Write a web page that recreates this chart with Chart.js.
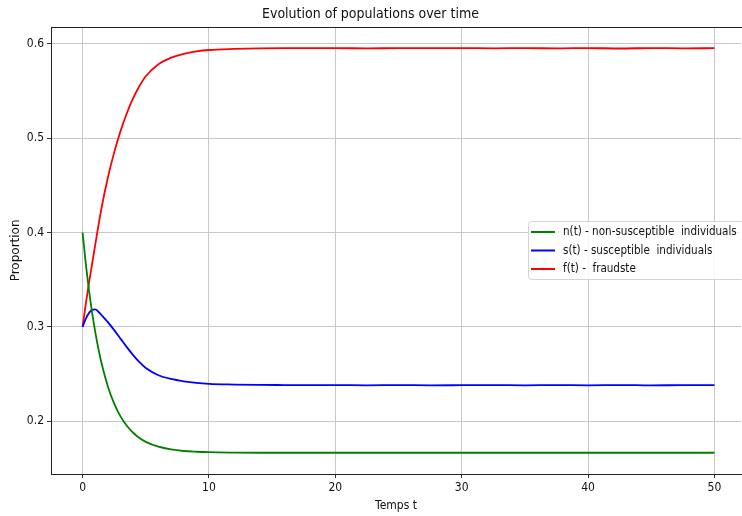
<!DOCTYPE html>
<html>
<head>
<meta charset="utf-8">
<script src="https://cdn.jsdelivr.net/npm/chart.js@4.4.1/dist/chart.umd.min.js"></script>
<style>
  html, body { margin: 0; padding: 0; background: #fff; }
  #wrap { width: 742px; height: 516px; }
</style>
</head>
<body>
<div id="wrap"><canvas id="popChart" width="742" height="516"></canvas></div>
<script>
// time samples and values
const times = [0, 0.25, 0.5, 0.75, 1, 1.25, 1.5, 2, 2.5, 3, 3.5, 4, 4.5, 5, 6, 7, 8, 9, 10,
  12, 14, 16, 18, 20, 22.5, 25, 27.5, 30, 32.5, 35, 37.5, 40, 42.5, 45, 47.5, 50];
const nonSusceptible = [0.400, 0.3675, 0.3395, 0.3154, 0.2946, 0.2768, 0.2614, 0.2368, 0.2186, 0.2051,
  0.1951, 0.1877, 0.1822, 0.1781, 0.1729, 0.1700, 0.1684, 0.1676, 0.1671,
  0.1667, 0.1665, 0.1665, 0.1665, 0.1665, 0.1665, 0.1665, 0.1665, 0.1665, 0.1665, 0.1665,
  0.1665, 0.1665, 0.1665, 0.1665, 0.1665, 0.1665];
const susceptible = [0.300, 0.3085, 0.3145, 0.318, 0.3185, 0.316, 0.3125, 0.305, 0.2965, 0.2875,
  0.2785, 0.270, 0.2625, 0.2563, 0.2487, 0.2447, 0.2422, 0.2405, 0.2395,
  0.2388, 0.2384, 0.2383, 0.2382, 0.2382, 0.2380, 0.2382, 0.2380, 0.2381, 0.2382, 0.2380,
  0.2383, 0.2380, 0.2383, 0.2379, 0.2382, 0.2381];
const fraudsters = [0.300, 0.324, 0.346, 0.3666, 0.3869, 0.4072, 0.4261, 0.4582, 0.4849, 0.5074,
  0.5264, 0.5423, 0.5553, 0.5656, 0.5784, 0.5853, 0.5894, 0.5919, 0.5934,
  0.5945, 0.5951, 0.5953, 0.5953, 0.5954, 0.5951, 0.5954, 0.5953, 0.5954, 0.5952, 0.5954,
  0.5951, 0.5955, 0.5950, 0.5955, 0.5952, 0.5953];
const xTicks = [0, 10, 20, 30, 40, 50];
const yTicks = [0.2, 0.3, 0.4, 0.5, 0.6];

function toPoints(ys) {
  return times.map((t, i) => ({ x: t, y: ys[i] }));
}

const condensed = "'DejaVu Sans Condensed', 'Liberation Sans Narrow', 'DejaVu Sans', sans-serif";
const regular = "'DejaVu Sans', sans-serif";

// frame + legend box drawn the matplotlib way
const framePlugin = {
  id: "frame",
  afterDraw(chart) {
    const { ctx, chartArea: a } = chart;
    ctx.save();
    ctx.strokeStyle = "#222";
    ctx.lineWidth = 1;
    ctx.strokeRect(Math.round(a.left) + 0.5, Math.round(a.top) + 0.5, Math.round(a.right - a.left) + 6, Math.round(a.bottom - a.top));

    // legend
    const bx = 528, by = 221, bw = 216, bh = 58;
    ctx.fillStyle = "rgba(255,255,255,0.85)";
    ctx.strokeStyle = "#d4d4d4";
    ctx.beginPath();
    ctx.roundRect(bx + 0.5, by + 0.5, bw, bh, 3);
    ctx.fill();
    ctx.stroke();
    // size the font so the longest label spans ~174px like the reference
    ctx.font = "12px " + condensed;
    const w = ctx.measureText(chart.data.datasets[0].label).width;
    const size = Math.min(13, 12 * 174 / w);
    ctx.font = size.toFixed(2) + "px " + condensed;
    ctx.textBaseline = "middle";
    chart.data.datasets.forEach((ds, i) => {
      const y = by + 11 + i * 18.5;
      ctx.strokeStyle = ds.borderColor;
      ctx.lineWidth = 2;
      ctx.beginPath();
      ctx.moveTo(bx + 3, y);
      ctx.lineTo(bx + 27, y);
      ctx.stroke();
      ctx.fillStyle = "#111";
      ctx.fillText(ds.label, bx + 35, y);
    });
    ctx.restore();
  }
};

new Chart(document.getElementById("popChart"), {
  type: "line",
  data: {
    datasets: [
      { label: "n(t) - non-susceptible  individuals", data: toPoints(nonSusceptible), borderColor: "#008000" },
      { label: "s(t) - susceptible  individuals", data: toPoints(susceptible), borderColor: "#0000ff" },
      { label: "f(t) -  fraudste", data: toPoints(fraudsters), borderColor: "#ff0000" }
    ]
  },
  options: {
    responsive: false,
    animation: false,
    layout: { padding: { left: 0, right: 1, top: 0, bottom: 0 } },
    elements: {
      point: { radius: 0 },
      line: { borderWidth: 1.8, cubicInterpolationMode: "monotone", fill: false }
    },
    plugins: {
      legend: { display: false },
      tooltip: { enabled: false },
      title: {
        display: true,
        text: "Evolution of populations over time",
        color: "#111",
        font: { family: condensed, size: 14, weight: "normal" },
        padding: { top: 6, bottom: 4 }
      }
    },
    scales: {
      x: {
        type: "linear",
        min: -2.5,
        max: 52.1,
        afterBuildTicks: s => { s.ticks = xTicks.map(v => ({ value: v })); },
        afterFit: s => { s.height = 42; },
        ticks: { color: "#111", font: { family: condensed, size: 12 }, padding: 3, maxRotation: 0 },
        grid: { color: "#c8c8c8", lineWidth: 1, tickLength: 4, tickColor: "#333" },
        border: { display: false },
        title: { display: true, text: "Temps t", color: "#111", font: { family: condensed, size: 12 }, padding: { top: 0, bottom: 3 } }
      },
      y: {
        min: 0.144,
        max: 0.618,
        afterBuildTicks: s => { s.ticks = yTicks.map(v => ({ value: v })); },
        afterFit: s => { s.width = 51; },
        ticks: { color: "#111", font: { family: condensed, size: 12 }, padding: 3, callback: v => v.toFixed(1) },
        grid: { color: "#c8c8c8", lineWidth: 1, tickLength: 4, tickColor: "#333" },
        border: { display: false },
        title: { display: true, text: "Proportion", color: "#111", font: { family: regular, size: 12 }, padding: { top: 9, bottom: 0 } }
      }
    }
  },
  plugins: [framePlugin]
});
</script>
</body>
</html>
